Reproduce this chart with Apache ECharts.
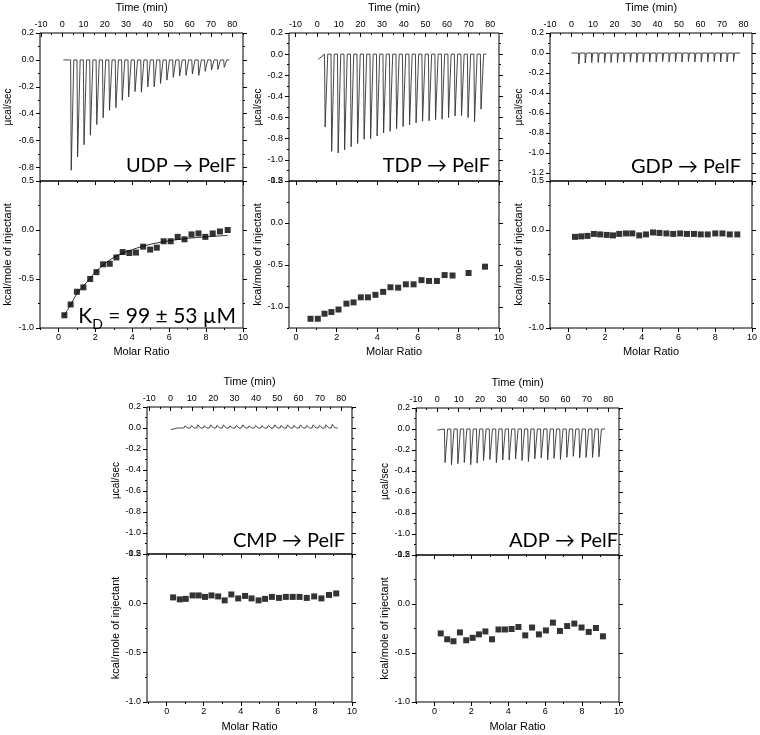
<!DOCTYPE html>
<html><head><meta charset="utf-8">
<script src="https://cdn.jsdelivr.net/npm/echarts@6/dist/echarts.min.js"></script>
<style>html,body{margin:0;padding:0;background:#fff}#c{width:760px;height:735px}</style>
</head><body><div id="c"></div><script>
// ---------------- DATA ----------------
const timeTicks = [-10,0,10,20,30,40,50,60,70,80];
const timeMinor = [-5,5,15,25,35,45,55,65,75,85];
const ratioTicks = [0,2,4,6,8,10];
const ratioMinor = [-1,1,3,5,7,9];
const powerTicks = [0.2,0.0,-0.2,-0.4,-0.6,-0.8,-1.0,-1.2];
const powerMinor = [0.1,-0.1,-0.3,-0.5,-0.7,-0.9,-1.1];
const heatTicks = [0.5,0.0,-0.5,-1.0];
const heatMinor = [0.25,-0.25,-0.75,-1.25];

// UDP
const udpInjTime = [3.9,6.9,9.9,12.9,15.9,18.9,21.9,24.9,27.9,30.9,33.9,36.9,39.9,42.9,45.9,48.9,51.9,54.9,57.9,60.9,63.9,66.9,69.9,72.9,75.9];
const udpPeak = [-0.82,-0.72,-0.63,-0.56,-0.48,-0.43,-0.375,-0.355,-0.30,-0.275,-0.235,-0.24,-0.20,-0.20,-0.175,-0.15,-0.13,-0.12,-0.115,-0.105,-0.115,-0.085,-0.075,-0.07,-0.055];
const udpRatio = [0.32,0.66,1.0,1.35,1.72,2.06,2.42,2.78,3.14,3.48,3.84,4.2,4.59,4.97,5.33,5.7,6.08,6.46,6.83,7.21,7.59,7.96,8.36,8.75,9.17];
const udpHeat = [-0.87,-0.76,-0.63,-0.585,-0.5,-0.43,-0.35,-0.345,-0.28,-0.225,-0.235,-0.23,-0.17,-0.2,-0.18,-0.115,-0.115,-0.07,-0.095,-0.045,-0.035,-0.07,-0.035,-0.015,0.0];
const udpFitX = [0.32,0.7,1.0,1.5,2.0,2.5,3.0,3.5,4.0,4.5,5.0,6.0,7.0,8.0,9.17];
const udpFitY = [-0.87,-0.75,-0.65,-0.54,-0.43,-0.345,-0.28,-0.235,-0.2,-0.17,-0.145,-0.11,-0.085,-0.07,-0.055];

// TDP
const tdpInjTime = [3.4,6.4,9.4,12.4,15.4,18.4,21.4,24.4,27.4,30.4,33.4,36.4,39.4,42.4,45.4,48.4,51.4,54.4,57.4,60.4,63.4,66.4,69.4,72.4,75.4];
const tdpPeak = [-0.69,-0.92,-0.935,-0.905,-0.875,-0.845,-0.805,-0.80,-0.775,-0.745,-0.73,-0.705,-0.685,-0.67,-0.65,-0.635,-0.63,-0.62,-0.615,-0.6,-0.585,-0.58,-0.6,-0.64,-0.52];
const tdpRatio = [0.71,1.07,1.40,1.74,2.09,2.48,2.83,3.19,3.54,3.91,4.29,4.65,5.03,5.41,5.79,6.18,6.55,6.94,7.32,7.71,8.50,9.31];
const tdpHeat = [-1.14,-1.14,-1.08,-1.06,-1.03,-0.96,-0.945,-0.885,-0.885,-0.855,-0.82,-0.765,-0.77,-0.73,-0.73,-0.68,-0.69,-0.69,-0.62,-0.625,-0.595,-0.52];

// GDP
const gdpInjTime = [3.3,6.3,9.3,12.3,15.3,18.3,21.3,24.3,27.3,30.3,33.3,36.3,39.3,42.3,45.3,48.3,51.3,54.3,57.3,60.3,63.3,66.3,69.3,72.3,75.3];
const gdpPeak = [-0.11,-0.1,-0.095,-0.095,-0.095,-0.095,-0.095,-0.09,-0.09,-0.095,-0.09,-0.09,-0.09,-0.085,-0.09,-0.09,-0.09,-0.085,-0.09,-0.09,-0.09,-0.085,-0.09,-0.09,-0.085];
const gdpRatio = [0.36,0.7,1.04,1.39,1.73,2.09,2.43,2.77,3.14,3.48,3.86,4.23,4.61,4.96,5.34,5.71,6.09,6.46,6.84,7.21,7.59,8.0,8.39,8.79,9.2];
const gdpHeat = [-0.07,-0.065,-0.06,-0.04,-0.045,-0.05,-0.055,-0.04,-0.035,-0.035,-0.055,-0.045,-0.025,-0.03,-0.035,-0.04,-0.035,-0.04,-0.04,-0.045,-0.045,-0.035,-0.035,-0.045,-0.045];

// CMP
const cmpInjTime = [3.3,6.3,9.3,12.3,15.3,18.3,21.3,24.3,27.3,30.3,33.3,36.3,39.3,42.3,45.3,48.3,51.3,54.3,57.3,60.3,63.3,66.3,69.3,72.3,75.3];
const cmpPeak = [0.015,0.02,0.025,0.03,0.02,0.03,0.025,0.03,0.02,0.025,0.03,0.02,0.025,0.02,0.025,0.03,0.025,0.03,0.025,0.03,0.025,0.03,0.025,0.03,0.035];
const cmpRatio = [0.35,0.71,1.03,1.4,1.73,2.07,2.42,2.78,3.13,3.49,3.86,4.23,4.58,4.96,5.31,5.68,6.06,6.43,6.8,7.17,7.56,7.96,8.35,8.76,9.15];
const cmpHeat = [0.06,0.04,0.045,0.08,0.08,0.065,0.08,0.07,0.03,0.09,0.05,0.075,0.05,0.03,0.045,0.065,0.055,0.065,0.065,0.065,0.055,0.07,0.05,0.085,0.1];

// ADP
const adpInjTime = [3.3,6.3,9.3,12.3,15.3,18.3,21.3,24.3,27.3,30.3,33.3,36.3,39.3,42.3,45.3,48.3,51.3,54.3,57.3,60.3,63.3,66.3,69.3,72.3,75.3];
const adpPeak = [-0.32,-0.34,-0.33,-0.32,-0.34,-0.325,-0.30,-0.29,-0.32,-0.295,-0.295,-0.285,-0.30,-0.31,-0.285,-0.275,-0.295,-0.28,-0.29,-0.27,-0.26,-0.275,-0.27,-0.27,-0.265];
const adpRatio = [0.34,0.69,1.03,1.38,1.72,2.07,2.41,2.76,3.12,3.47,3.82,4.18,4.55,4.92,5.29,5.66,6.04,6.42,6.8,7.19,7.58,7.97,8.36,8.75,9.13];
const adpHeat = [-0.30,-0.36,-0.38,-0.29,-0.37,-0.345,-0.31,-0.28,-0.36,-0.26,-0.26,-0.255,-0.235,-0.32,-0.24,-0.31,-0.27,-0.19,-0.275,-0.225,-0.20,-0.24,-0.285,-0.245,-0.33];

// trace start/end (time, value)
const traceStart = {UDP:[0.5,0], TDP:[0.5,-0.05], GDP:[0,0], CMP:[0.3,-0.015], ADP:[0,-0.01]};
const traceEnd = {UDP:78.6, TDP:78.2, GDP:78.5, CMP:78.3, ADP:78.5};

const labels = {UDP:'UDP \u2192 PelF', TDP:'TDP \u2192 PelF', GDP:'GDP \u2192 PelF', CMP:'CMP \u2192 PelF', ADP:'ADP \u2192 PelF'};

// ---------------- LAYOUT ----------------
const FONT = '"Liberation Sans", Arial, sans-serif';
const ANN = 'Lato, "DejaVu Sans", sans-serif';
const panels = [
 {k:'UDP', L:40, R:243, T:33, M:181, B:328, t:[-10.5,85], p:[-0.9,0.2], r:[-1,10], h:[-1,0.5], gy:27, inj:udpInjTime, pk:udpPeak, rx:udpRatio, hy:udpHeat, shape:[0.3,1.5], fit:true, ann:[236,166]},
 {k:'TDP', L:289, R:499, T:33, M:181, B:328, t:[-13,84], p:[-1.2,0.2], r:[-0.35,10], h:[-1.25,0.5], gy:19, inj:tdpInjTime, pk:tdpPeak, rx:tdpRatio, hy:tdpHeat, shape:[0.3,1.5], ann:[490,166]},
 {k:'GDP', L:550, R:752, T:33, M:181, B:328, t:[-10,84], p:[-1.28,0.2], r:[-1,10], h:[-1,0.5], gy:24, inj:gdpInjTime, pk:gdpPeak, rx:gdpRatio, hy:gdpHeat, shape:[0.1,0.6], ann:[741,167]},
 {k:'CMP', L:147, R:352, T:407, M:554, B:702, t:[-11,85], p:[-1.2,0.2], r:[-1.06,10], h:[-1,0.5], gy:23, inj:cmpInjTime, pk:cmpPeak, rx:cmpRatio, hy:cmpHeat, shape:[0.5,1.8], ann:[345,541]},
 {k:'ADP', L:416, R:619, T:408, M:555, B:702, t:[-10,85], p:[-1.2,0.2], r:[-1,10], h:[-1,0.5], gy:26, inj:adpInjTime, pk:adpPeak, rx:adpRatio, hy:adpHeat, shape:[0.3,1.5], ann:[618,541]}
];

const grids=[], xAxes=[], yAxes=[], series=[], graphics=[];
const inRange=(v,a,b)=>v.filter(x=>x>=a-1e-9&&x<=b+1e-9);
const f1=v=>(Math.abs(v)<1e-9?0:v).toFixed(1);
const f0=v=>String(Math.round(v));
function ax(gi,pos,rng,vals,len,inside,fmt,margin,name,gap,nameSize){
  const o={type:'value',gridIndex:gi,position:pos,min:rng[0],max:rng[1],
    axisLine:{show:false,onZero:false},splitLine:{show:false},
    axisTick:{show:true,inside:inside,length:len,customValues:inRange(vals,rng[0],rng[1]),lineStyle:{color:'#000',width:1}},
    axisLabel:{show:false},z:5};
  if(fmt){o.axisLabel={show:true,customValues:inRange(vals,rng[0],rng[1]),formatter:fmt,fontSize:9,color:'#000',fontFamily:FONT,margin:margin};}
  if(name){o.name=name;o.nameLocation='middle';o.nameGap=gap;o.nameTextStyle={fontSize:nameSize,color:'#000',fontFamily:FONT};}
  return o;
}

panels.forEach(P=>{
  const w=P.R-P.L;
  const gTop=grids.length;
  grids.push({left:P.L,top:P.T,width:w,height:P.M-P.T,show:true,borderColor:'#000',borderWidth:1,containLabel:false});
  const gBot=grids.length;
  grids.push({left:P.L,top:P.M,width:w,height:P.B-P.M,show:true,borderColor:'#000',borderWidth:1,containLabel:false});

  const xT=xAxes.length;
  xAxes.push(ax(gTop,'top',P.t,timeTicks,4,true,f0,4,'Time (min)',20,11));
  xAxes.push(ax(gTop,'top',P.t,timeMinor,2,true));
  const yT=yAxes.length;
  yAxes.push(ax(gTop,'left',P.p,powerTicks,4,false,f1,6,'\u00b5cal/sec',P.gy,10));
  yAxes.push(ax(gTop,'left',P.p,powerMinor,2,false));
  yAxes.push(ax(gTop,'right',P.p,powerTicks,4,false));
  yAxes.push(ax(gTop,'right',P.p,powerMinor,2,false));

  const xB=xAxes.length;
  xAxes.push(ax(gBot,'bottom',P.r,ratioTicks,4,false,f0,5,'Molar Ratio',P.T>300?19:18,11));
  xAxes.push(ax(gBot,'bottom',P.r,ratioMinor,2,false));
  xAxes.push(ax(gBot,'top',P.r,ratioTicks,4,true));
  xAxes.push(ax(gBot,'top',P.r,ratioMinor,2,true));
  const yB=yAxes.length;
  yAxes.push(ax(gBot,'left',P.h,heatTicks,4,false,f1,6,'kcal/mole of injectant',P.gy,11));
  yAxes.push(ax(gBot,'left',P.h,heatMinor,2,false));
  yAxes.push(ax(gBot,'right',P.h,heatTicks,4,false));
  yAxes.push(ax(gBot,'right',P.h,heatMinor,2,false));

  const st=traceStart[P.k];
  const tr=[[st[0],st[1]]];
  P.inj.forEach((t,i)=>{tr.push([t,0],[t+P.shape[0],P.pk[i]],[t+P.shape[1],0]);});
  tr.push([traceEnd[P.k],0]);
  series.push({type:'line',xAxisIndex:xT,yAxisIndex:yT,data:tr,showSymbol:false,symbol:'none',
    lineStyle:{color:'#333',width:0.9},clip:true,animation:false,z:3});

  series.push({type:'scatter',xAxisIndex:xB,yAxisIndex:yB,data:P.rx.map((x,i)=>[x,P.hy[i]]),
    symbol:'rect',symbolSize:6,itemStyle:{color:'#000'},animation:false,z:4});
  if(P.fit){
    series.push({type:'line',xAxisIndex:xB,yAxisIndex:yB,data:udpFitX.map((x,i)=>[x,udpFitY[i]]),
      showSymbol:false,symbol:'none',smooth:0.3,lineStyle:{color:'#333',width:1},animation:false,z:3});
  }
  graphics.push({type:'text',x:P.ann[0],y:P.ann[1],z:10,style:{text:labels[P.k],fill:'#000',
    font:'20px '+ANN,textAlign:'right',textVerticalAlign:'middle'}});
});

graphics.push({type:'text',x:236,y:316,z:10,style:{
  text:'{a|K}{b|D}{a| = 99 \u00b1 53 \u00b5M}',textAlign:'right',textVerticalAlign:'middle',
  rich:{a:{fontSize:21,fontFamily:ANN,fill:'#000',color:'#000',lineHeight:30,verticalAlign:'middle'},
        b:{fontSize:14,fontFamily:ANN,fill:'#000',color:'#000',lineHeight:14,verticalAlign:'bottom'}}}});

const chart=echarts.init(document.getElementById('c'),null,{renderer:'canvas'});
chart.setOption({animation:false,backgroundColor:'#fff',grid:grids,xAxis:xAxes,yAxis:yAxes,series:series,graphic:graphics});
</script></body></html>
